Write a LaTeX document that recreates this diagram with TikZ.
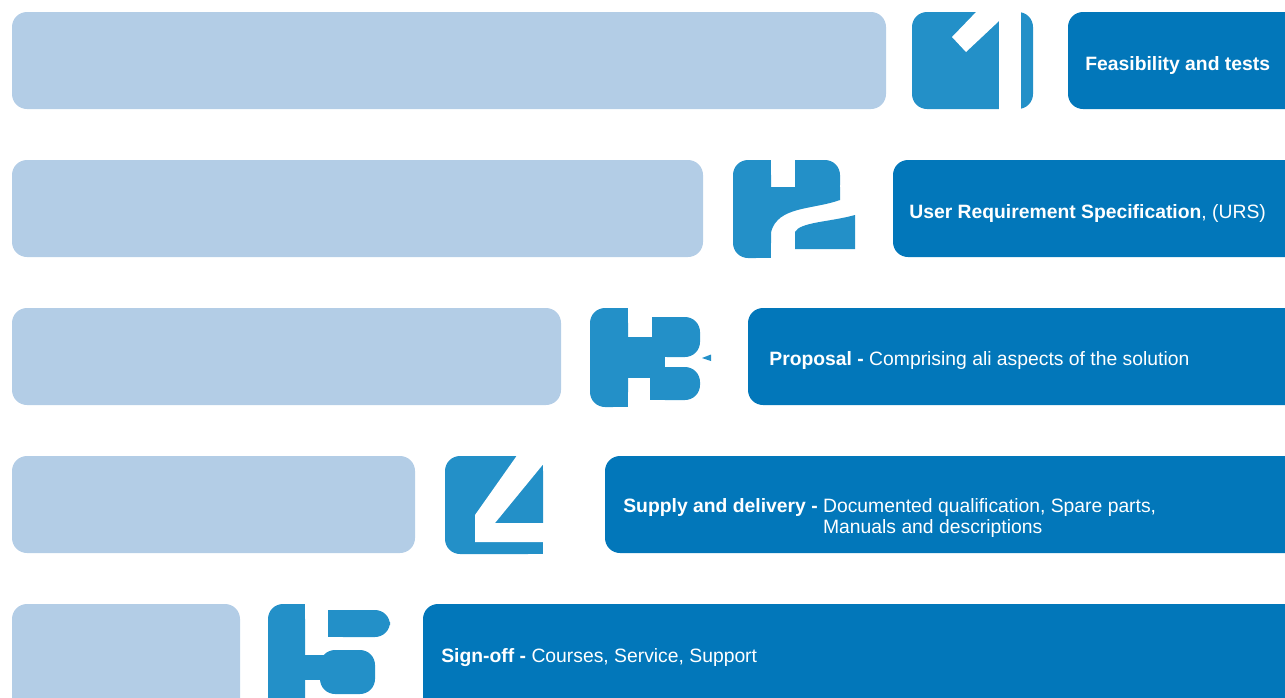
\documentclass[tikz,border=0pt]{standalone}
\usepackage{fontspec}
\setmainfont{Liberation Sans}
\usepackage{xcolor}

\definecolor{barlight}{RGB}{179,205,230}
\definecolor{digitblue}{RGB}{35,144,200}
\definecolor{stepblue}{RGB}{2,119,186}

\tikzset{
  bar/.style={fill=barlight, rounded corners=0.3cm},
  stepbox/.style={fill=stepblue, rounded corners=0.3cm},
  digit/.style={fill=digitblue},
  digitround/.style={fill=digitblue, rounded corners=0.3cm},
  cut/.style={fill=white},
  steptext/.style={text=white, anchor=base west, align=left, inner sep=0pt,
    font=\fontsize{11}{12}\selectfont},
}

\begin{document}
\begin{tikzpicture}[x=0.02cm, y=-0.02cm]
    \useasboundingbox (0,0) rectangle (1285,697);
    \clip (0,0) rectangle (1285,697);

    % Row 1
    \fill[bar] (12,12) rectangle (886,109);
    \fill[stepbox] (1068,12) rectangle (1300,109);
    \node[steptext] (step1) at (1085,70) {\textbf{Feasibility and tests}};

    % Digit 1
    \fill[digitround] (912,12) rectangle (1033,109);
    \fill[cut] (999,10) rectangle (1021,111);
    \fill[cut] (978,10) -- (952,37) -- (966,52) -- (999,21) -- (999,10) -- cycle;

    % Row 2
    \fill[bar] (12,160) rectangle (703,257);
    \fill[stepbox] (893,160) rectangle (1300,257);
    \node[steptext] (step2) at (909,218) {\textbf{User Requirement Specification}, (URS)};

    % Digit 2
    \fill[digitround] (733,160) rectangle (771,258);
    \fill[digit] (756,160) rectangle (771,258);
    \fill[digitround] (795,160) rectangle (840,200);
    \fill[digit] (795,160) rectangle (822,200);
    \fill[digit] (771,187) -- (840,187) -- (840,200)
        .. controls (812,210) and (778,206) .. (771,232) -- cycle;
    \fill[digit] (795,249) -- (795,232)
        .. controls (800,222) and (830,222) .. (855,215) -- (855,249) -- cycle;

    % Row 3
    \fill[bar] (12,308) rectangle (561,405);
    \fill[stepbox] (748,308) rectangle (1300,405);
    \node[steptext] (step3) at (769,365) {\textbf{Proposal -} Comprising ali aspects of the solution};

    % Digit 3
    \fill[digitround] (590,308) rectangle (628,407);
    \fill[digit] (612,308) rectangle (628,407);
    \fill[digitround] (652,317) rectangle (700,357);
    \fill[digit] (652,317) rectangle (675,357);
    \fill[digit] (628,337) rectangle (665,378);
    \fill[digitround] (650,367) rectangle (700,400);
    \fill[digit] (650,367) rectangle (675,400);
    \fill[digit] (702,358) -- (711,354.5) -- (711,361) -- cycle;

    % Row 4
    \fill[bar] (12,456) rectangle (415,553);
    \fill[stepbox] (605,456) rectangle (1300,553);
    \node[steptext, anchor=north west] (step4) at (623,498) {\textbf{Supply and delivery -} Documented qualification, Spare parts,\\
      \phantom{\textbf{Supply and delivery -} }Manuals and descriptions};

    % Digit 4
    \fill[digitround] (445,456) rectangle (543,554);
    \fill[digit] (520,456) rectangle (543,554);
    \fill[cut] (518,454) -- (545,454) -- (545,462) -- (495,523) -- (545,523)
        -- (545,542) -- (475,542) -- (475,515) -- cycle;

    % Row 5
    \fill[bar] (12,604) rectangle (240,720);
    \fill[stepbox] (423,604) rectangle (1300,720);
    \node[steptext] (step5) at (441,662) {\textbf{Sign-off -} Courses, Service, Support};

    % Digit 5
    \fill[digitround] (268,604) rectangle (305,720);
    \fill[digit] (290,604) rectangle (305,720);
    \fill[digitround] (328,610) rectangle (390,637);
    \fill[digit] (328,610) rectangle (360,637);
    \fill[digit] (305,655) rectangle (340,680);
    \fill[digitround] (320,650) rectangle (375,694);

\end{tikzpicture}
\end{document}
